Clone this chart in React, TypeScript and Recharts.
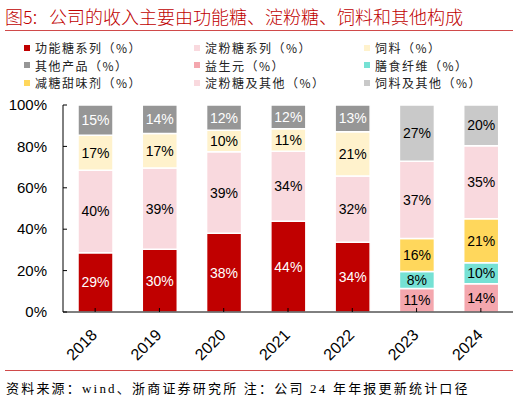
import React from 'react'
import { BarChart, Bar, XAxis, YAxis, LabelList } from 'recharts'

const YEARS = ['2018', '2019', '2020', '2021', '2022', '2023', '2024']

// 2018-2022 caliber
const FUNCTIONAL = [28.6, 30.3, 38.0, 43.9, 33.7, null, null]
const STARCH = [39.9, 39.3, 39.4, 33.8, 32.0, null, null]
const FEED = [16.9, 16.6, 10.4, 10.8, 21.4, null, null]
const OTHERS = [14.6, 13.8, 12.2, 11.5, 12.9, null, null]

// 2023-2024 caliber
const PREBIOTIC = [null, null, null, null, null, 11.4, 13.6]
const FIBER = [null, null, null, null, null, 8.2, 10.2]
const SWEETENER = [null, null, null, null, null, 15.9, 21.3]
const STARCH_OTHER = [null, null, null, null, null, 37.3, 35.2]
const FEED_OTHER = [null, null, null, null, null, 27.2, 19.7]

const Y_TICKS = [0, 20, 40, 60, 80, 100]

const SERIES = [
  { key: 'functional', name: '功能糖系列（%）', color: '#C00000', text: '#fff', values: FUNCTIONAL },
  { key: 'starch', name: '淀粉糖系列（%）', color: '#F9D9DE', text: '#000', values: STARCH },
  { key: 'feed', name: '饲料（%）', color: '#FFF2CC', text: '#000', values: FEED },
  { key: 'others', name: '其他产品（%）', color: '#969696', text: '#fff', values: OTHERS },
  { key: 'prebiotic', name: '益生元（%）', color: '#F4A7AE', text: '#000', values: PREBIOTIC },
  { key: 'fiber', name: '膳食纤维（%）', color: '#76E1D4', text: '#000', values: FIBER },
  { key: 'sweetener', name: '减糖甜味剂（%）', color: '#FFD75C', text: '#000', values: SWEETENER },
  { key: 'starchOther', name: '淀粉糖及其他（%）', color: '#F9D9DE', text: '#000', values: STARCH_OTHER },
  { key: 'feedOther', name: '饲料及其他（%）', color: '#C9C9C9', text: '#000', values: FEED_OTHER },
]

// legend is laid out row by row, three per row
const LEGEND_ORDER = ['functional', 'starch', 'feed', 'others', 'prebiotic', 'fiber', 'sweetener', 'starchOther', 'feedOther']

const data = YEARS.map((year, i) => {
  const row: Record<string, string | number | null> = { year }
  for (const s of SERIES) row[s.key] = s.values[i]
  return row
})

const NUM_FONT = '"Liberation Sans", Arial, sans-serif'
const CJK_FONT = '"Noto Sans CJK SC", sans-serif'

function YTick(props: any) {
  const { x, y, payload } = props
  return (
    <g>
      <line x1={x + 16} y1={y} x2={x + 20} y2={y} stroke="#000" strokeWidth={1} />
      <text x={x} y={y} dy="0.35em" textAnchor="end" fontSize={15} fontFamily={NUM_FONT} fill="#000">
        {payload.value}%
      </text>
    </g>
  )
}

function XTick(props: any) {
  const { x, y, payload } = props
  return (
    <g>
      <line x1={x} y1={y - 16} x2={x} y2={y - 20} stroke="#000" strokeWidth={1} />
      <text
        transform={`translate(${x + 3}, ${y + 8}) rotate(-45)`}
        textAnchor="end"
        fontSize={16}
        fontFamily={NUM_FONT}
        fill="#000"
      >
        {payload.value}
      </text>
    </g>
  )
}

export default function App() {
  const legendRows = [0, 1, 2].map((r) => LEGEND_ORDER.slice(r * 3, r * 3 + 3))

  return (
    <div style={{ position: 'absolute', left: 0, top: 0, width: 520, height: 402, background: '#fff' }}>
      {/* title */}
      <div style={{
        position: 'absolute', left: 5, top: 5, fontSize: 18, lineHeight: '22px',
        color: '#C00000', fontFamily: CJK_FONT, fontWeight: 300, whiteSpace: 'nowrap',
      }}>
        图5:&nbsp;&nbsp;&nbsp;公司的收入主要由功能糖、淀粉糖、饲料和其他构成
      </div>
      <div style={{ position: 'absolute', left: 5, top: 30, width: 508, height: 1, background: '#D04A4A' }} />

      {/* legend */}
      {legendRows.map((row, r) => row.map((k, c) => {
        const s = SERIES.find((x) => x.key === k)!
        return (
          <div key={k} style={{
            position: 'absolute', left: 24 + c * 170, top: 39 + r * 17.5, height: 17,
            display: 'flex', alignItems: 'center', fontSize: 12, letterSpacing: 1.5,
            fontFamily: CJK_FONT, color: '#222', whiteSpace: 'nowrap',
          }}>
            <span style={{ width: 6, height: 6, background: s.color, marginRight: 5, display: 'inline-block' }} />
            {s.name}
          </div>
        )
      }))}

      <div style={{ position: 'absolute', left: 0, top: 0 }}>
        <BarChart
          width={520}
          height={402}
          data={data}
          margin={{ top: 105, right: 7, bottom: 40, left: 8 }}
        >
          <YAxis
            type="number"
            domain={[0, 100]}
            ticks={Y_TICKS}
            width={55}
            tickSize={0}
            tickMargin={16}
            tickLine={false}
            axisLine={{ stroke: '#000', strokeWidth: 1 }}
            tick={<YTick />}
          />
          <XAxis
            dataKey="year"
            height={50}
            tickSize={0}
            tickMargin={16}
            tickLine={false}
            interval={0}
            axisLine={{ stroke: '#000', strokeWidth: 1 }}
            tick={<XTick />}
          />
          {SERIES.map((s) => (
            <Bar
              key={s.key}
              dataKey={s.key}
              stackId="a"
              fill={s.color}
              stroke="#fff"
              strokeWidth={1.5}
              barSize={35}
              isAnimationActive={false}
            >
              <LabelList
                dataKey={s.key}
                position="center"
                fill={s.text}
                fontSize={14}
                fontFamily={NUM_FONT}
                formatter={(v: any) => (v == null ? '' : `${Math.round(v)}%`)}
              />
            </Bar>
          ))}
        </BarChart>
      </div>

      {/* footer */}
      <div style={{ position: 'absolute', left: 5, top: 370, width: 508, height: 1, background: '#D04A4A' }} />
      <div style={{
        position: 'absolute', left: 6, top: 379, fontSize: 13, lineHeight: '20px', letterSpacing: 2.2,
        fontFamily: '"Liberation Serif", "Noto Sans CJK SC", serif', color: '#000', whiteSpace: 'nowrap',
      }}>
        资料来源：wind、浙商证券研究所 注：公司 24 年年报更新统计口径
      </div>
    </div>
  )
}
